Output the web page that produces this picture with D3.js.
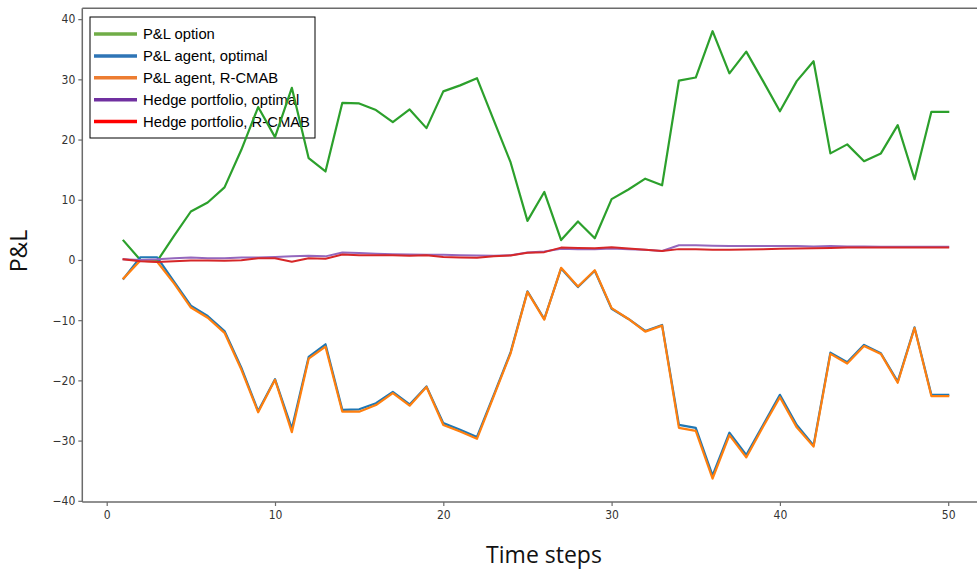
<!DOCTYPE html>
<html>
<head>
<meta charset="utf-8">
<script src="https://cdn.jsdelivr.net/npm/d3@7"></script>
<style>
  html, body { margin: 0; padding: 0; background: #fff; }
  svg { display: block; }
</style>
</head>
<body>
<svg id="chart" width="977" height="571"></svg>
<script>
// ---------------- DATA ----------------
const timeSteps = d3.range(1, 51);

const plOption = [3.2, 0.0, -0.2, 4.0, 8.05, 9.55, 12.05, 18.3, 25.4, 20.4,
  28.6, 16.9, 14.7, 26.1, 26.0, 24.9, 22.9, 25.0, 21.9, 28.0,
  29.0, 30.2, 23.2, 16.2, 6.5, 11.3, 3.3, 6.4, 3.6, 10.1,
  11.7, 13.5, 12.4, 29.8, 30.3, 38.0, 31.0, 34.6, 29.7, 24.7,
  29.7, 33.0, 17.7, 19.2, 16.4, 17.7, 22.4, 13.4, 24.6, 24.6];

const plAgentOptimal = [-3.1, 0.45, 0.45, -3.6, -7.6, -9.3, -11.8, -17.9, -25.1, -19.8,
  -28.0, -16.1, -14.0, -24.9, -24.8, -23.8, -21.9, -24.0, -21.0, -27.1,
  -28.2, -29.4, -22.4, -15.3, -5.2, -9.8, -1.4, -4.5, -1.8, -8.1,
  -9.8, -11.8, -10.8, -27.4, -27.9, -35.8, -28.7, -32.4, -27.4, -22.4,
  -27.4, -30.8, -15.4, -17.0, -14.1, -15.5, -20.2, -11.2, -22.4, -22.4];

const plAgentRCMAB = [-3.05, -0.1, -0.3, -3.9, -7.9, -9.6, -12.1, -18.2, -25.3, -19.9,
  -28.6, -16.4, -14.4, -25.2, -25.2, -24.1, -22.1, -24.2, -21.1, -27.4,
  -28.5, -29.7, -22.6, -15.5, -5.3, -9.9, -1.3, -4.4, -1.7, -8.0,
  -9.8, -11.9, -10.9, -27.9, -28.4, -36.3, -29.1, -32.8, -27.7, -22.8,
  -27.8, -31.0, -15.6, -17.2, -14.3, -15.6, -20.4, -11.3, -22.6, -22.6];

const hedgeOptimal = [0.1, 0.0, 0.1, 0.3, 0.4, 0.3, 0.3, 0.4, 0.4, 0.5,
  0.6, 0.7, 0.6, 1.25, 1.15, 1.05, 0.95, 0.9, 0.85, 0.85,
  0.8, 0.75, 0.7, 0.8, 1.25, 1.4, 1.85, 1.8, 1.8, 1.9,
  1.8, 1.7, 1.5, 2.45, 2.45, 2.35, 2.3, 2.3, 2.3, 2.3,
  2.3, 2.25, 2.3, 2.25, 2.25, 2.2, 2.2, 2.2, 2.2, 2.2];

const hedgeRCMAB = [0.1, -0.2, -0.35, -0.2, -0.1, -0.1, -0.15, -0.05, 0.3, 0.3,
  -0.3, 0.3, 0.2, 0.9, 0.8, 0.8, 0.8, 0.7, 0.8, 0.5,
  0.4, 0.35, 0.6, 0.75, 1.2, 1.3, 2.05, 2.0, 1.95, 2.1,
  1.9, 1.7, 1.5, 1.8, 1.8, 1.7, 1.7, 1.75, 1.8, 1.85,
  1.9, 1.95, 2.0, 2.05, 2.05, 2.05, 2.05, 2.05, 2.05, 2.05];

const seriesNames = ["P&L option", "P&L agent, optimal", "P&L agent, R-CMAB",
  "Hedge portfolio, optimal", "Hedge portfolio, R-CMAB"];
const xTicks = [0, 10, 20, 30, 40, 50];
const yTicks = [-40, -30, -20, -10, 0, 10, 20, 30, 40];

// ---------------- STYLE ----------------
const lineColors = ["#2ca02c", "#1f77b4", "#ff7f0e", "#9467bd", "#d62728"];
const legendColors = ["#70ad47", "#2e75b6", "#ed7d31", "#7030a0", "#ff0000"];
const lineWidths = [2.2, 2.2, 2.2, 2.0, 2.0];

const seriesData = [plOption, plAgentOptimal, plAgentRCMAB, hedgeOptimal, hedgeRCMAB];

// ---------------- CHART ----------------
(function () {
const svg = d3.select("#chart");
const mLeft = 82.3, mTop = 8.3, mBottom = 502;
const x = d3.scaleLinear().domain([-1.45, 52.45]).range([mLeft, mLeft + 53.9 * 16.83]);
const y = d3.scaleLinear().domain([-40.2, 41.8]).range([mBottom, mTop]);

const spineColor = "#6b6b6b";
const tickFont = "'DejaVu Sans Condensed', 'DejaVu Sans', sans-serif";

// legend box (transparent, drawn beneath the lines as in the reference)
const lg = svg.append("g");
lg.append("rect").attr("x", 90).attr("y", 17).attr("width", 225).attr("height", 121)
  .attr("fill", "none").attr("stroke", "#000").attr("stroke-width", 1);
const rowY = i => 34 + i * 21.9;
lg.selectAll("line.leg").data(seriesNames).join("line")
  .attr("class", "leg")
  .attr("x1", 94).attr("x2", 137)
  .attr("y1", (d, i) => rowY(i)).attr("y2", (d, i) => rowY(i))
  .attr("stroke", (d, i) => legendColors[i]).attr("stroke-width", 3.5);
lg.selectAll("text").data(seriesNames).join("text")
  .attr("x", 143).attr("y", (d, i) => rowY(i) + 5)
  .attr("font-family", "'Liberation Sans', Arial, sans-serif")
  .attr("font-size", 14.8).attr("fill", "#000")
  .text(d => d);

// lines
const lineGen = d3.line().x((d, i) => x(timeSteps[i])).y(d => y(d));
svg.append("g").selectAll("path")
  .data(seriesData)
  .join("path")
  .attr("d", d => lineGen(d))
  .attr("fill", "none")
  .attr("stroke", (d, i) => lineColors[i])
  .attr("stroke-width", (d, i) => lineWidths[i])
  .attr("stroke-linejoin", "round")
  .attr("stroke-linecap", "square");

// axes
const xAxis = d3.axisBottom(x).tickValues(xTicks).tickSize(4).tickPadding(4).tickSizeOuter(0);
const yAxis = d3.axisLeft(y).tickValues(yTicks).tickSize(4).tickPadding(3).tickSizeOuter(0)
  .tickFormat(d => d < 0 ? "\u2212" + Math.abs(d) : d);

const gx = svg.append("g").attr("transform", `translate(0,${mBottom})`).call(xAxis);
const gy = svg.append("g").attr("transform", `translate(${mLeft},0)`).call(yAxis);
[gx, gy].forEach(g => {
  g.select(".domain").remove();
  g.selectAll(".tick line").attr("stroke", spineColor).attr("stroke-width", 1.2);
  g.selectAll(".tick text").attr("fill", "#333").attr("font-size", 12).attr("font-family", tickFont);
});

// spines: left, bottom, top (right is outside the visible area)
svg.append("line").attr("x1", mLeft).attr("x2", mLeft).attr("y1", mTop).attr("y2", mBottom)
  .attr("stroke", spineColor).attr("stroke-width", 1.5);
svg.append("line").attr("x1", mLeft).attr("x2", 977).attr("y1", mBottom).attr("y2", mBottom)
  .attr("stroke", spineColor).attr("stroke-width", 1.5);
svg.append("line").attr("x1", mLeft).attr("x2", 977).attr("y1", mTop).attr("y2", mTop)
  .attr("stroke", spineColor).attr("stroke-width", 1.5);

// axis titles
svg.append("text").attr("x", 544).attr("y", 563)
  .attr("text-anchor", "middle").attr("font-family", "'Open Sans', sans-serif")
  .attr("font-size", 23).attr("fill", "#111").text("Time steps");
svg.append("text").attr("transform", "translate(27,251) rotate(-90)")
  .attr("text-anchor", "middle").attr("font-family", "'Open Sans', sans-serif")
  .attr("font-size", 23).attr("fill", "#111").text("P&L");
})();
</script>
</body>
</html>
